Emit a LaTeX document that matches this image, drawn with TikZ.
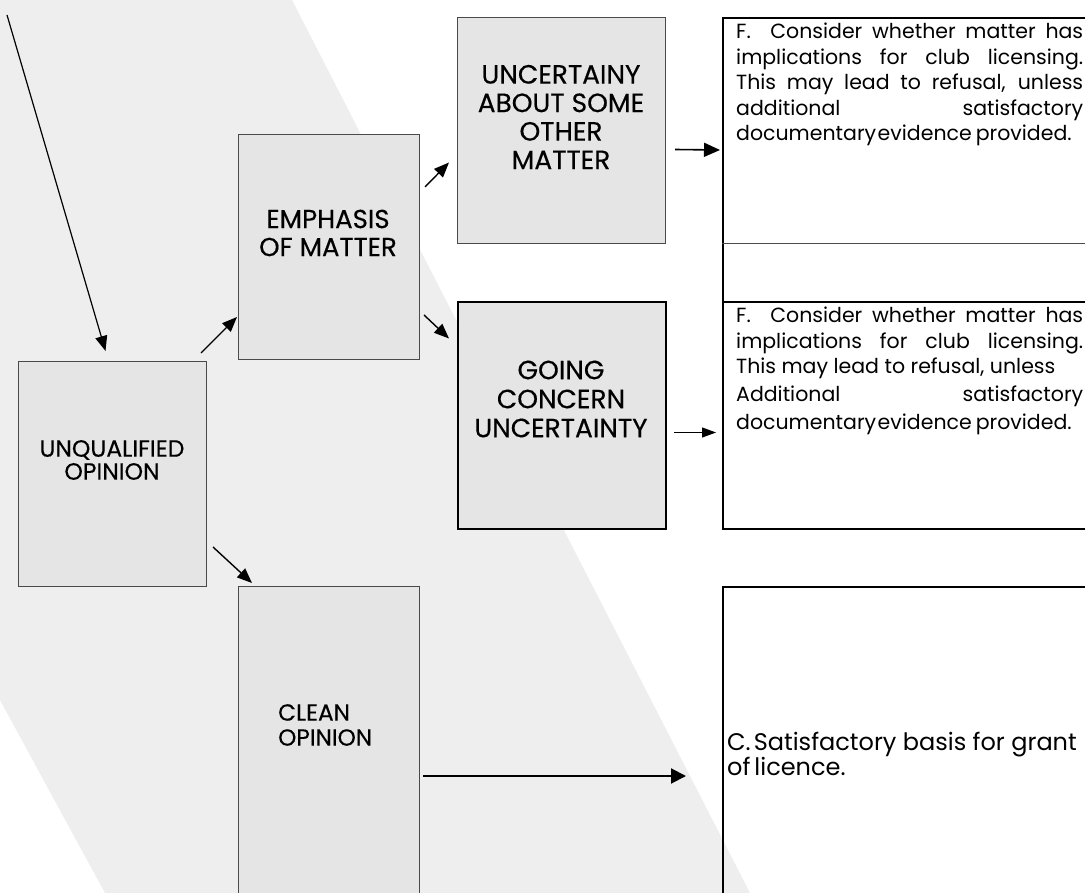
\documentclass[tikz,border=0pt]{standalone}
\usepackage{fontspec}
\setmainfont{Poppins}
\newfontfamily\capfont{Poppins}[FakeBold=0.4]
\usetikzlibrary{arrows.meta}
\definecolor{bandgrey}{HTML}{EEEEEE}
\definecolor{boxgrey}{HTML}{E5E5E5}
\definecolor{edgegrey}{HTML}{4A4A4A}
\newcommand{\fline}[1]{\makebox[347pt][s]{#1}}
\hbadness=10000
\begin{document}
\begin{tikzpicture}[x=1pt, y=-1pt,
opbox/.style={draw=edgegrey, line width=1pt, fill=boxgrey, inner sep=0pt, anchor=north west},
resbox/.style={draw=black, line width=2pt, inner sep=0pt, anchor=north west},
optext/.style={align=center, inner sep=0pt},
restext/.style={align=left, inner sep=0pt, anchor=north west, font=\fontsize{20.5}{25.5}\selectfont},
flow/.style={-{Triangle[length=15pt,width=12pt]}, line width=1.4pt}]
\useasboundingbox (0,0) rectangle (1085,893);
\clip (0,0) rectangle (1085,893);
\fill[white] (0,0) rectangle (1085,893);
\fill[bandgrey] (0,0) -- (292,0) -- (750,893) -- (105,893) -- (0,700) -- cycle;
\coordinate (entry) at (7,15);
\node[opbox, minimum width=188pt, minimum height=225pt] (unq) at (18,361) {};
\node[opbox, minimum width=181pt, minimum height=225pt] (emph) at (238,134) {};
\node[opbox, minimum width=208pt, minimum height=226pt] (unc) at (457,17) {};
\node[opbox, draw=black, line width=2pt, minimum width=208pt, minimum height=227pt] (going) at (457,301) {};
\node[opbox, minimum width=181pt, minimum height=330pt] (clean) at (238,586) {};
\node[optext, font=\capfont\fontsize{23.5}{23}\selectfont] (unqtext) at (112,460) {UNQUALIFIED\\OPINION};
\node[optext, font=\capfont\fontsize{26}{28}\selectfont] (emphtext) at (328,233) {EMPHASIS\\OF MATTER};
\node[optext, font=\capfont\fontsize{26.4}{28.5}\selectfont] (unctext) at (561,117) {UNCERTAINY\\ABOUT SOME\\OTHER\\MATTER};
\node[optext, font=\capfont\fontsize{26.4}{29}\selectfont] (goingtext) at (561,399) {GOING\\CONCERN\\UNCERTAINTY};
\node[optext, align=left, anchor=west, font=\capfont\fontsize{23.2}{25}\selectfont] (cleantext) at (278,725) {CLEAN\\OPINION};
\node[resbox, minimum width=400pt, minimum height=284pt] (frowa) at (722,17) {};
\draw[edgegrey, line width=1pt] ([yshift=-227pt]frowa.north west) -- ([yshift=-227pt]frowa.north east);
\node[resbox, minimum width=400pt, minimum height=227pt] (frowb) at (722,301) {};
\node[resbox, minimum width=400pt, minimum height=330pt] (crow) at (722,586) {};
\node[restext] (ftexta) at (736,23) {\fline{F.\ \ Consider whether matter has}\\\fline{implications for club licensing.}\\\fline{This may lead to refusal, unless}\\\fline{additional satisfactory}\\documentary\hspace{1.5pt}evidence\hspace{4pt}provided.};
\node[restext] (ftextb) at (736,307) {\fline{F.\ \ Consider whether matter has}\\\fline{implications for club licensing.}\\This may lead to refusal, unless\\[2pt]\fline{Additional satisfactory}\\[3pt]documentary\hspace{1.5pt}evidence\hspace{4pt}provided.};
\node[restext, anchor=west, font=\fontsize{24}{25}\selectfont] (ctext) at (727,754) {C.\hspace{3pt}Satisfactory basis for grant\\of\hspace{4pt}licence.};
\draw[flow, line width=1.2pt] (entry) -- ([xshift=-7pt,yshift=10pt]unq.north);
\draw[flow] ([xshift=-6pt,yshift=8pt]unq.north east) -- ([xshift=-1pt,yshift=43pt]emph.south west);
\draw[flow] ([xshift=5pt,yshift=60pt]emph.east) -- ([xshift=-8pt,yshift=-32pt]unc.west);
\draw[flow] ([xshift=4pt,yshift=-68pt]emph.east) -- ([xshift=-8pt,yshift=77pt]going.west);
\draw[flow] ([xshift=6pt,yshift=-73pt]unq.east) -- ([xshift=14pt,yshift=3pt]clean.north west);
\draw[flow, -{Triangle[length=16pt,width=14pt]}, line width=1.6pt] ([xshift=9pt,yshift=-19pt]unc.east) -- ([xshift=-2pt,yshift=10pt]frowa.west);
\draw[flow, -{Triangle[length=14pt,width=10pt]}, line width=1.2pt] ([xshift=7pt,yshift=-17pt]going.east) -- ([xshift=-6pt,yshift=-17pt]frowb.west);
\draw[flow, -{Triangle[length=15pt,width=15pt]}, line width=2pt] ([xshift=3pt,yshift=-190pt]clean.north east) -- ([xshift=-36pt,yshift=-190pt]crow.north west);
\end{tikzpicture}
\end{document}
